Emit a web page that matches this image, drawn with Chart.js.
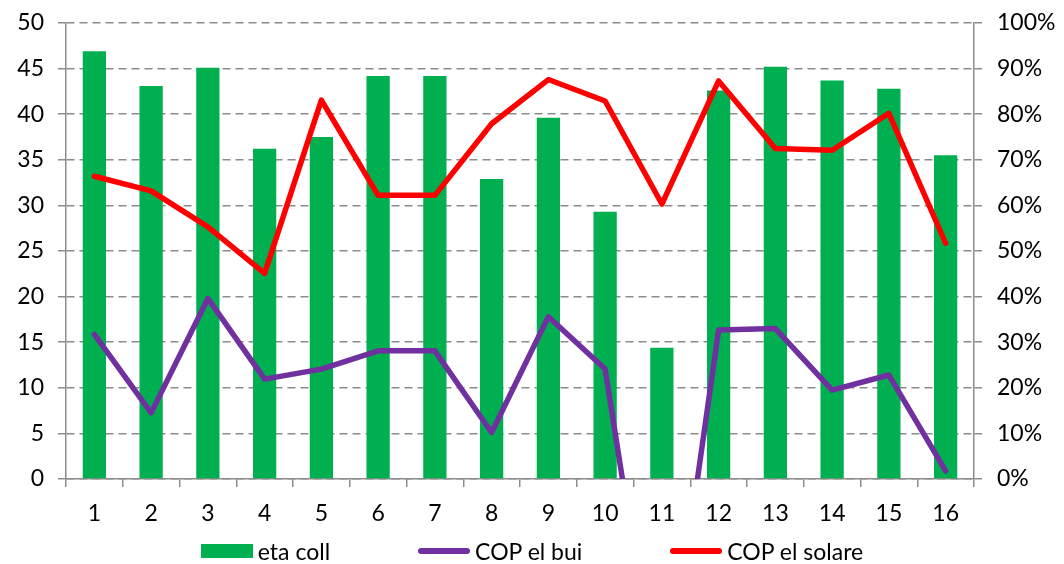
<!DOCTYPE html>
<html>
<head>
<meta charset="utf-8">
<script src="https://cdn.jsdelivr.net/npm/chart.js@4"></script>
<style>
  body { margin: 0; background: #fff; }
  #wrap { position: relative; width: 1064px; height: 564px; }
  #legend {
    position: absolute; left: 0; right: 0; top: 537px; height: 28px;
    display: flex; justify-content: center; align-items: center;
    font: 23px Lato, sans-serif; color: #000;
  }
  .item { display: flex; align-items: center; margin: 0 44px; }
  .sw { width: 52px; margin-right: 5px; }
  .box { height: 14px; background: #00B050; }
  .ln { height: 6px; border-radius: 3px; }
</style>
</head>
<body>
<div id="wrap">
  <canvas id="chart" width="1064" height="564"></canvas>
  <div id="legend"></div>
</div>
<script>
const categories = ['1', '2', '3', '4', '5', '6', '7', '8', '9', '10', '11', '12', '13', '14', '15', '16'];
const etaColl = [46.9, 43.1, 45.1, 36.2, 37.5, 44.2, 44.2, 32.9, 39.6, 29.3, 14.4, 42.6, 45.2, 43.7, 42.8, 35.5];
const copElBui = [31.7, 14.5, 39.6, 21.9, 24.1, 28.1, 28.1, 10.2, 35.6, 24.1, -55, 32.7, 33.0, 19.5, 22.8, 1.8];
const copElSolare = [66.4, 63.2, 55.3, 45.1, 83.1, 62.2, 62.2, 77.9, 87.6, 82.9, 60.3, 87.3, 72.5, 72.1, 80.2, 51.7];
const seriesNames = ['eta coll', 'COP el bui', 'COP el solare'];

const GREEN = '#00B050', PURPLE = '#7030A0', RED = '#FF0000', GRID = '#8c8c8c';
const tickFont = { family: 'Lato', size: 23 };

const ctx = document.getElementById('chart');

new Chart(ctx, {
  type: 'bar',
  data: {
    labels: categories,
    datasets: [{
      type: 'line',
      label: seriesNames[1],
      data: copElBui,
      yAxisID: 'y1',
      borderColor: PURPLE,
      borderWidth: 5.5,
      pointRadius: 0,
      tension: 0,
      borderJoinStyle: 'round',
      borderCapStyle: 'round',
      order: 2
    }, {
      type: 'line',
      label: seriesNames[2],
      data: copElSolare,
      yAxisID: 'y1',
      borderColor: RED,
      borderWidth: 5.5,
      pointRadius: 0,
      tension: 0,
      borderJoinStyle: 'round',
      borderCapStyle: 'round',
      order: 1
    }, {
      label: seriesNames[0],
      data: etaColl,
      yAxisID: 'y',
      backgroundColor: GREEN,
      borderWidth: 0,
      barPercentage: 0.41,
      categoryPercentage: 1,
      order: 3
    }]
  },
  options: {
    responsive: false,
    animation: false,
    layout: { padding: { top: 23, left: 0, right: 0, bottom: 0 } },
    plugins: {
      legend: { display: false },
      tooltip: { enabled: false }
    },
    scales: {
      x: {
        offset: true,
        grid: { display: true, drawOnChartArea: false, offset: true, color: GRID, tickLength: 8, lineWidth: 1.5 },
        border: { display: true, color: GRID, width: 1.5 },
        ticks: { color: '#000', font: tickFont, padding: 13, maxRotation: 0 },
        afterFit(scale) { scale.height = 85; }
      },
      y: {
        position: 'left',
        min: 0,
        max: 50,
        ticks: { stepSize: 5, color: '#000', font: tickFont, padding: 14 },
        grid: { color: GRID, lineWidth: 1.5, tickLength: 8 },
        border: { display: true, color: GRID, width: 1.5, dash: [8, 5] },
        afterFit(scale) { scale.width = 66; scale.paddingTop = 0; }
      },
      y1: {
        position: 'right',
        min: 0,
        max: 100,
        ticks: { stepSize: 10, color: '#000', font: tickFont, padding: 15, callback: v => v + '%' },
        grid: { drawOnChartArea: false, color: GRID, lineWidth: 1.5, tickLength: 8 },
        border: { display: true, color: GRID, width: 1.5 },
        afterFit(scale) { scale.width = 90; scale.paddingTop = 0; }
      }
    }
  }
});

// legend below the chart
const legendEl = document.getElementById('legend');
const legendStyles = [['box', GREEN], ['ln', PURPLE], ['ln', RED]];
seriesNames.forEach((name, i) => {
  const item = document.createElement('div');
  item.className = 'item';
  const sw = document.createElement('div');
  sw.className = 'sw ' + legendStyles[i][0];
  sw.style.background = legendStyles[i][1];
  const txt = document.createElement('span');
  txt.textContent = name;
  item.appendChild(sw);
  item.appendChild(txt);
  legendEl.appendChild(item);
});
</script>
</body>
</html>
